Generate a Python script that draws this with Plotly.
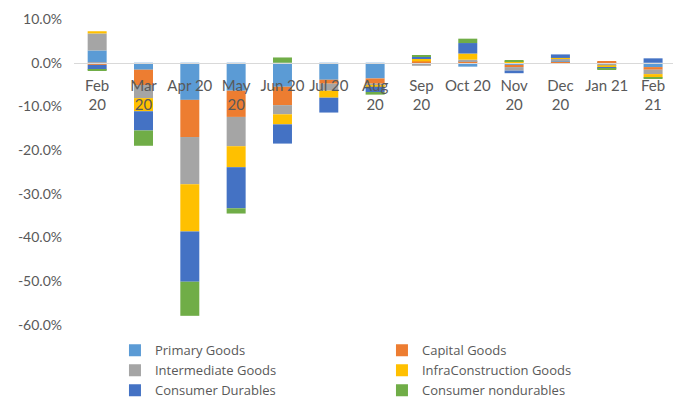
import plotly.graph_objects as go

# Month-on-month contribution (percentage points) by use-based category
months = ["Feb<br>20", "Mar<br>20", "Apr 20", "May<br>20", "Jun 20", "Jul 20", "Aug<br>20",
          "Sep<br>20", "Oct 20", "Nov<br>20", "Dec<br>20", "Jan 21", "Feb<br>21"]

primary = [2.8, -1.6, -8.5, -6.4, -5.5, -3.9, -3.6, -0.2, -0.9, -0.5, 0.3, -0.3, -1.0]
capital = [-0.5, -3.5, -8.5, -6.0, -4.2, -0.9, -1.2, 0.3, 0.3, -0.5, -0.2, 0.4, -0.6]
intermediate = [3.9, -3.0, -10.8, -6.7, -2.1, -1.6, -0.5, -0.5, 0.4, -0.8, 0.6, -0.3, -1.0]
infra = [0.5, -3.0, -10.8, -4.8, -2.3, -1.6, -0.2, 0.7, 1.4, 0.3, 0.2, -0.6, -0.8]
durables = [-1.1, -4.4, -11.5, -9.4, -4.4, -3.4, -1.2, 0.4, 2.4, -0.6, 0.8, -0.1, 1.0]
nondurables = [-0.2, -3.5, -7.8, -1.2, 1.2, 0.0, -0.6, 0.2, 1.0, 0.2, 0.0, -0.3, -0.3]

series_names = ["Primary Goods", "Capital Goods", "Intermediate Goods",
                "InfraConstruction Goods", "Consumer Durables", "Consumer nondurables"]
series_values = [primary, capital, intermediate, infra, durables, nondurables]
colors = ["#5B9BD5", "#ED7D31", "#A5A5A5", "#FFC000", "#4472C4", "#70AD47"]

y_ticks = [10, 0, -10, -20, -30, -40, -50, -60]
y_tick_text = ["10.0%", "0.0%", "-10.0%", "-20.0%", "-30.0%", "-40.0%", "-50.0%", "-60.0%"]

FONT = "Lato"
LEGEND_FONT = "Open Sans"
GREY = "#595959"

fig = go.Figure()
for name, vals, col in zip(series_names, series_values, colors):
    fig.add_trace(go.Bar(x=list(range(len(months))), y=vals, name=name,
                         marker=dict(color=col, line=dict(width=0))))

fig.update_layout(
    width=673, height=400,
    margin=dict(l=74, r=0, t=19, b=75, autoexpand=False),
    barmode="relative", bargap=0.59,
    plot_bgcolor="white", paper_bgcolor="white",
    font=dict(family=FONT, size=15, color=GREY),
    showlegend=True,
    legend=dict(orientation="h", x=0.0684, xanchor="left", y=-0.034, yanchor="top",
                entrywidth=222, entrywidthmode="pixels", traceorder="normal",
                font=dict(family=LEGEND_FONT, size=13, color=GREY), itemclick=False),
    xaxis=dict(
        tickmode="array", tickvals=list(range(len(months))), ticktext=months,
        range=[-0.5, 12.43], anchor="free", position=(0 - -60) / 70,
        showline=True, linecolor="#D9D9D9", linewidth=1,
        showgrid=False, zeroline=False, ticks="",
        tickfont=dict(family=FONT, size=15, color=GREY), ticklabelstandoff=9,
    ),
    yaxis=dict(
        range=[-60, 10], tickmode="array", tickvals=y_ticks, ticktext=y_tick_text,
        showgrid=False, zeroline=False, showline=False, ticks="",
        tickfont=dict(family=FONT, size=14, color=GREY), ticklabelstandoff=11,
    ),
)

fig.write_html("out.html")
